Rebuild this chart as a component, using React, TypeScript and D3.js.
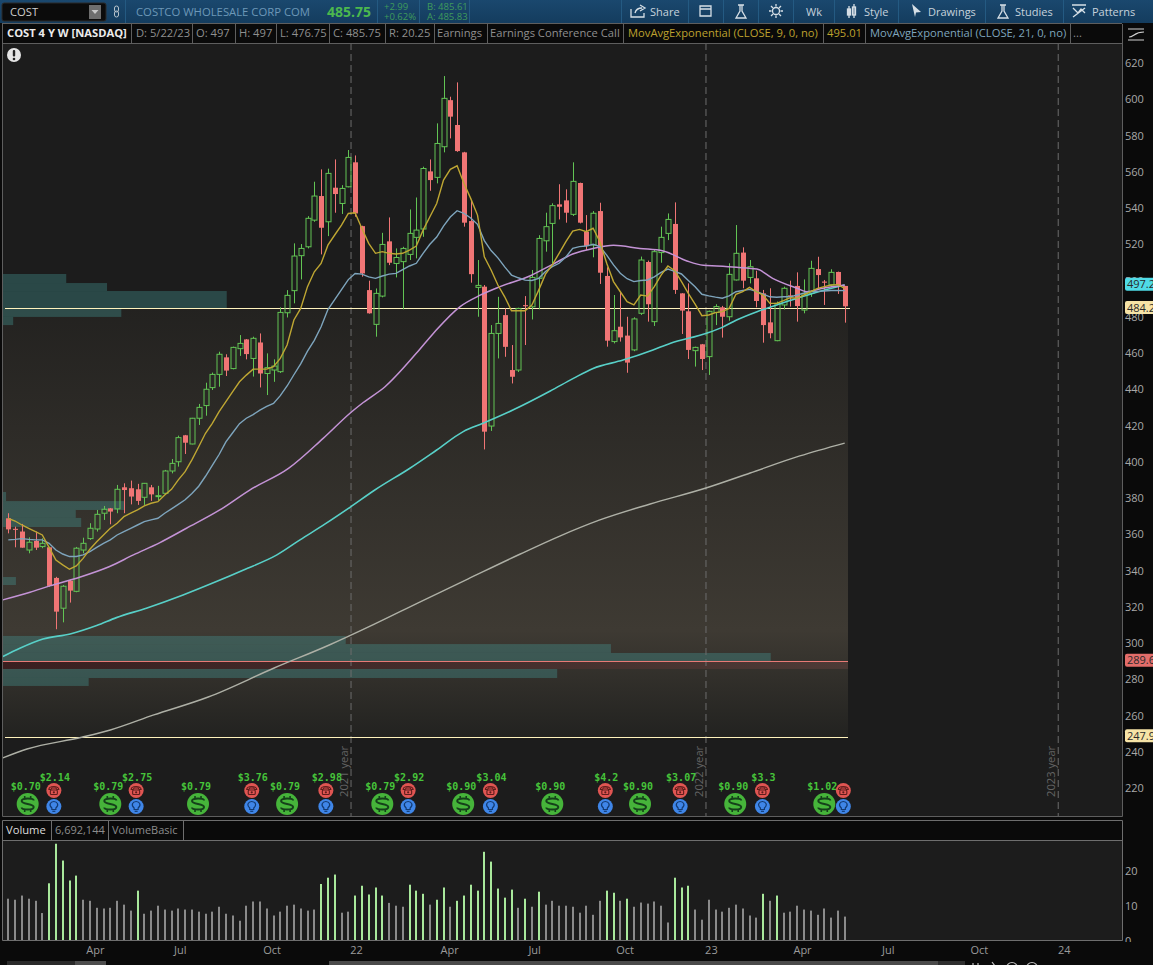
import React from "react";
import * as d3 from "d3";

const opens = [368.8,363,361.5,351.3,356.3,353.2,352.8,335.9,319.2,334.4,328.5,351.3,357.6,362.9,371.6,374.3,374,385.9,385.4,384.8,380.4,385.9,381,382.6,394.9,400,414.6,409.8,424,431,440.9,448.2,457.6,451.4,462.4,467.5,457,465.8,448.7,450.6,449.7,482.2,494.4,513.7,518.6,533.3,546.6,532.4,551.2,542.5,551.7,565.2,530,494.7,475.8,491.4,521.6,509.4,510.4,514.4,523.8,528.4,560.2,556.9,573.8,599.5,585.8,570.7,532.8,496.2,496.6,419.7,470.8,480.9,450.6,450.6,486.4,485.5,501.2,521.9,531.5,542,544.2,536.5,553.8,526.9,519.6,538.3,502.5,466.3,474.5,469.6,461.7,481.9,510.2,477.3,515.4,526,531.2,492.9,483,461.3,464.8,458,482.4,485.2,480,500.3,515.4,501.7,501.2,492.9,476.9,466.8,486.5,491.8,497,483.7,492.9,506.3,499.4,497.5,504.7,497];
const highs = [371.6,364.2,365.7,358.3,361.5,357.8,353,336.5,332,335,353,358.1,366.1,373.4,375.6,374.5,387.2,388.1,389.6,387.8,388.3,387.2,386.7,395.5,401.5,414.4,414.8,424.2,431.9,443.6,449.2,460.7,459.3,463.5,469.9,467.7,469,470.8,459.8,456.5,485.2,494.7,520.5,520.1,535.5,554.5,561.3,561.7,566.8,552.6,572,569,530.2,499.9,495.6,526.3,534.8,517.7,518.6,539.2,545.8,562.8,566.8,586.7,612.8,601.4,609.3,571,544.4,511.3,497.5,475.4,491,484.6,464.4,485,491.4,505.8,525,537.4,542.6,553.1,550.3,565.2,554,536.1,538.3,542.9,507.3,492,493.8,480,479.7,513.2,511,516.8,529.7,537,543.1,493,498.4,463.5,465,483.4,486.9,486,509.5,530.6,518.3,511.3,505.4,494.8,495.7,488.4,496.6,499.9,504.5,500.6,510.9,513.1,500.3,506.2,504.9,497];
const lows = [360.5,352.8,352.6,349.5,351.3,352.3,331,307.6,311.4,322.3,328,349.5,356.9,361.5,367.9,365.5,371.6,371.6,376.5,376.2,376.2,378.4,378.6,381.7,393.6,397.3,404.3,409.6,420.3,425.4,439.6,441.4,447.3,451,458.4,456.5,447,441,436.8,444.1,449,479.6,487.4,500.6,517.7,532.4,514.4,524.5,537.4,536.7,551.4,535.2,502.1,481.7,469,490.7,508.5,501.7,484.1,511.3,512.2,524.1,549.5,553.6,570.7,578.4,571,529.7,498.8,480,406.8,417,457,457.9,443.2,449.5,464.4,478.5,484.1,515.9,509.5,533.7,531.9,535.6,531.5,516.8,512.8,498.1,463.5,465.3,466.3,449.1,461,481,477.3,474.9,509.8,522.3,492.6,470.5,456.7,452.5,450.6,447.9,475.4,468.5,477.8,500,495.7,498.4,485.2,465.7,468.1,466.5,484,485.6,477.3,481.9,491,494.8,486.5,496.6,492.6,476.75];
const closes = [362.7,362.4,352.6,355.6,352.6,355,331.5,317.3,331.3,328.9,352.3,355,363.3,371,373.8,372.5,384.8,384.4,380.8,378.4,388.1,382,381.3,394.9,399.1,413.3,410.5,424,430,440,448.2,459.3,450.3,463.1,465.3,459.4,468.1,448.7,451.9,452.8,482.4,491.8,513.5,517.7,534.3,546.6,529.1,559.1,547.7,550.8,567.9,537,503.9,481.9,492.9,519.9,509.8,512.7,517.7,526,527.8,561.8,555.4,575.6,600.5,590.4,571.4,531.9,503.5,497.3,416.6,470.8,476.3,463.4,446.9,484.6,485.8,501.7,523.2,529.7,541.3,540.7,537.4,554.7,531.9,519,537.1,504.3,466.8,472.3,468.6,454.7,478.8,511.3,486.9,515.9,523.8,533.7,494.8,483.4,461.7,463.1,456.7,483,485.6,480,503.4,515,499.9,507.6,488.7,475.4,470.9,487.4,495.7,491.4,485.9,492.9,506.7,503,498.8,504.5,497.5,485.75];
const ema9 = [368.8,367.3,365.1,363.3,361.5,359.6,352.8,345.8,343.1,340.7,342.5,346.7,351.7,355.9,359.6,363.3,366.1,369.7,371.6,373.4,375.6,377.1,378,381.7,384.8,390,394.5,401,408.3,415.7,421.2,427.6,433.2,438.7,444.1,447.8,451.1,451.1,451.1,452.4,457,464.4,478.2,484.6,496.6,504.8,509.4,519.5,525.1,530.6,537,537.4,528.7,520.5,515,515.9,515,514.6,515,516.8,519,527.8,535.2,542.5,555.4,561.3,563.3,553.6,545.3,536.1,513.1,505.8,497.5,491,483.3,483.3,483.3,486.4,494.7,503.5,508.6,515,521.4,527.3,528.2,526.9,528.8,521.4,509.5,499.4,493.8,488.3,486.5,492,491.4,496.6,503,508,505.4,499.4,492.9,487,480.6,481,482.3,482.8,484.6,492.4,493.8,496.2,493.8,492,487.4,487.4,488.9,490.5,490.2,492,493.8,495.7,496.6,497.5,497.7,495.7];
const ema21 = [356.9,357.2,357.6,357.2,356.9,356.9,355,351.3,349.1,347.7,347.7,348.6,350.4,352.8,355,356.9,359.6,361.5,363.3,365.1,367,367.9,368.8,371.6,374,376.5,379,382.5,386.5,392,398,404,411,416,421,424,426,428.5,430.5,432.2,436.5,441.8,448,454,461,467,474.5,484,489.5,495,500.5,503.9,503.5,502,501.2,502.5,503.5,503.9,506,508,509.5,515,520,524,530,535,538.5,537,534.5,531,522,516.5,512.5,507.5,503,501.5,500.2,500,501.2,505,507.6,509.5,513,517.7,518.7,519,520,518.7,514,508.6,504,501,499.4,500,500.3,502,504.5,506.3,505,503.6,500,496.5,492.4,491.5,490.8,490.2,491.5,493.8,494.5,495.1,494,492.5,491,490.8,491,491,492,493,493.8,494,494.2,494.5,494.5,494.4];
const ema50Bars = [-0.8,3.2,6.1,10.5,14.9,18.4,22.3,26.2,31.1,35.5,41.2,46.3,50.5,52.2,55.4,60,62.5,66.4,69.4,72.3,76.7,79.9,83,86,89,92.9,96.3,99.8,102.2,104.2,107.1,110.1,112.4,116,117.4,119.8,123];
const ema50 = [323.8,328,331.5,336.3,342.2,348.6,355.4,363.3,373.4,384.4,396.3,412.9,427.6,432.7,441.4,459.8,470.8,485.5,491.9,496.6,502.5,508.6,514.6,517.7,519.4,517.7,516.3,510.8,508.4,508,507.3,506.3,501.2,495.7,493.8,495.7,497.5];
const ema100Bars = [-0.8,1.7,5.1,9.1,13,15.9,20.3,25.7,30.6,34.6,39.5,42.9,46.6,50.3,53.9,59,63,66.9,69.8,74.2,79.7,83.1,86,90.4,94.8,97.3,102.7,104.9,107.1,110.1,113,116,118.9,123];
const ema100 = [292.5,297.1,302.2,305,309.6,314,319.2,326.5,333.9,340.3,348.6,356.9,365.7,375,384.4,396.3,406.5,416.6,421.2,428.5,439,446,451.5,456.1,461.7,465.3,470.9,474,478.2,482.8,486.5,490.2,493.5,497.5];
const ema200Bars = [-0.8,2.75,10.8,15,21.4,29.4,39.1,47.2,53.6,60.5,67.9,75.3,81.1,87,94.4,102.6,109.1,116.4,123];
const ema200 = [236.6,241.5,248,252,260.3,270.2,286.2,298.9,310,322.6,335.9,349.1,359,367.9,376.7,385.5,393.8,403.2,410.3];
const volumes = [11.8,11.5,12.7,11.8,11.2,7.7,16.2,27.5,22.7,17,18.4,11.5,11.2,9.2,9,9.2,11.2,10.1,8.4,14.1,7.5,8.4,9.8,8.7,8.4,9,8.7,8.7,8.1,7.5,8.1,9.5,7.5,7,5.5,9.8,11,11,9,7,8.1,9.8,10.1,9,8.4,8.7,16,17.8,18.7,7.8,8.1,12.7,15.5,13,15,12.7,10.6,9.8,9.5,15.8,14.1,13.2,10.1,11.5,15,9.5,11.2,12.7,15.8,14.1,25.2,22.4,14.7,12.1,14.4,9.2,11.8,9.5,13.8,10.1,11.2,9.8,9.8,9.5,7.8,9.8,7.2,11.2,14.1,13.5,11.2,11.8,9.5,10.7,10.4,11,9.8,5,17.8,15,15.5,8.7,5.8,11.5,8.7,8.1,9.2,10.1,9,7,6.4,13.2,11.2,12.7,7.8,8.1,9.8,8.7,8.4,7.2,9,6.4,8.4,6.69];
const highVolumeBars = [6,7,8,9,10,19,46,47,48,51,52,53,54,55,59,60,61,63,64,66,67,68,69,70,71,72,73,74,76,78,88,89,91,98,99,100,111,113];
const profileTop = [503.6,498.6,494.2,484.8,479.9,383.3,378.3,373.4,369,336.4,303.9,299.4,294.5,285.7,280.7];
const profileBottom = [498.6,494.2,484.8,479.9,475.4,378.3,373.4,369,364,332,299.4,294.5,290,280.7,276.3];
const profileLength = [9.3,15.3,32.9,17.4,1.5,0.45,17.9,10.7,11.5,1.9,50.4,89.4,112.9,81.5,12.6];
const priceTicks = [620,600,580,560,540,520,500,480,460,440,420,400,380,360,340,320,300,280,260,240,220];
const volumeTicks = [20,10,0];
const monthLabels = ["Apr","Jul","Oct","22","Apr","Jul","Oct","23","Apr","Jul","Oct","24"];
const monthBars = [12.8,25.3,38.8,51.2,64.9,77.4,90.7,103.4,116.8,129.4,142.8,155.3];
const yearLabels = ["2021 year","2022 year","2023 year"];
const yearBars = [50.4,102.6,154.4];
const dividendBars = [2.85,15,27.9,41,55,66.9,80,92.9,106.9,120];
const dividendLabels = ["$0.70","$0.79","$0.79","$0.79","$0.79","$0.90","$0.90","$0.90","$0.90","$1.02"];
const earningsBars = [6.7,18.8,35.8,46.7,58.8,70.9,87.8,98.8,110.9,122.8];
const earningsLabels = ["$2.14","$2.75","$3.76","$2.98","$2.92","$3.04","$4.2","$3.07","$3.3",""];
const resistancePrice = 484.75;
const supportHigh = 289.9;
const supportLow = 285.7;
const lowPrice = 247.9;
const badgeValues = ["497.2","484.2","289.6","247.9"];
const badgePrices = [498,485.1,290.5,248.8];
const badgeFill = ["#4fdbe6","#f6e3a6","#e26d6a","#f6e3a6"];
const headerCells = ["D: 5/22/23","O: 497","H: 497","L: 476.75","C: 485.75","R: 20.25","Earnings","Earnings Conference Call"];
const headerCellX = [136,196,239,280,333,389,437,490];
const headerSeparators = [131,192,235,276,329,385,434,487,623,823,865,1070,1122];
const toolbarLabels = ["Share","Wk","Style","Drawings","Studies","Patterns"];
const toolbarX = [650,806,864,928,1015,1092];
const toolbarSeparators = [125,377,419,469,621,688,723,758,793,834,898,985,1063];

const FONT = "'Open Sans', sans-serif";
const MONO = "'DejaVu Sans Mono', monospace";
const x = d3.scaleLinear().domain([0, 123]).range([8.3, 844.7]);
const y = d3.scaleLinear().domain([620, 220]).range([63, 788]);
const vy = d3.scaleLinear().domain([0, 20]).range([940, 870]);
const profileX = d3.scaleLinear().domain([0, 1]).range([3, 9.8]);
const snap = (v: number) => Math.round(v) + 0.5;

const line = (bars: number[], vals: number[]) =>
  d3.line<number>().x((b) => x(b)).y((_, i) => y(vals[i])).curve(d3.curveLinear)(bars) as string;
const smooth = (bars: number[], vals: number[]) =>
  d3.line<number>().x((b) => x(b)).y((_, i) => y(vals[i])).curve(d3.curveMonotoneX)(bars) as string;
const allBars = opens.map((_, i) => i);

const GREEN = "#62c454";
const RED = "#f07575";

function Dollar({ cx }: { cx: number }) {
  return (
    <g transform={`translate(${cx},804)`}>
      <circle r={11} fill="#46b43a" />
      <path d="M6,-3.5 C6,-6 -6,-6.5 -6,-3 C-6,0.5 6,-0.5 6,3 C6,6.5 -6,6 -6,3.5" fill="none" stroke="#15401a" strokeWidth={2} />
      <path d="M-3,-8V-5.5M3,-8V-5.5M-3,5.5V8M3,5.5V8" stroke="#15401a" strokeWidth={1.6} />
    </g>
  );
}
function Phone({ cx }: { cx: number }) {
  return (
    <g transform={`translate(${cx},790.5)`}>
      <circle r={7.5} fill="#e05552" />
      <path d="M-5,-1 C-5,-5 5,-5 5,-1 L3,-1 L2,-2.5 L-2,-2.5 L-3,-1 Z" fill="none" stroke="#5e1d1c" strokeWidth={1.1} />
      <rect x={-3.5} y={-0.5} width={7} height={4.5} rx={1} fill="none" stroke="#5e1d1c" strokeWidth={1.1} />
      <circle cy={1.8} r={1.1} fill="#5e1d1c" />
    </g>
  );
}
function Bulb({ cx }: { cx: number }) {
  return (
    <g transform={`translate(${cx},806.5)`}>
      <circle r={7.5} fill="#3f86e8" />
      <path d="M-2,1.5 C-5.5,-1.5 -3.5,-5 0,-5 C3.5,-5 5.5,-1.5 2,1.5 V3 H-2 Z" fill="none" stroke="#123a72" strokeWidth={1.2} />
      <path d="M-1.5,4.8H1.5" stroke="#123a72" strokeWidth={1.2} />
    </g>
  );
}

export default function App() {
  document.body.style.margin = "0";
  document.body.style.background = "#0a0a0a";
  return (
    <svg width={1153} height={965} style={{ display: "block", position: "absolute", left: 0, top: 0 }} fontFamily={FONT}>
      <defs>
        <linearGradient id="topbar" x1="0" y1="0" x2="0" y2="1">
          <stop offset="0" stopColor="#1a486e" />
          <stop offset="1" stopColor="#143c5e" />
        </linearGradient>
        <linearGradient id="band" x1="0" y1="0" x2="0" y2="1">
          <stop offset="0" stopColor="#232220" />
          <stop offset="0.75" stopColor="#3e3a33" />
          <stop offset="1" stopColor="#222220" />
        </linearGradient>
        <linearGradient id="supp" x1="0" y1="0" x2="1" y2="0">
          <stop offset="0" stopColor="#3a1f20" />
          <stop offset="1" stopColor="#4d3a36" />
        </linearGradient>
        <clipPath id="volclip"><rect x={1123} y={840} width={30} height={102} /></clipPath>
      </defs>
      <rect width={1153} height={965} fill="#0a0a0a" />

      {/* panels */}
      <rect x={3} y={43} width={1119} height={773} fill="#1c1c1c" />
      <rect x={3} y={841} width={1119} height={99} fill="#1c1c1c" />
      <rect x={3} y={y(resistancePrice)} width={845} height={y(lowPrice) - y(resistancePrice)} fill="url(#band)" />

      {/* volume profile */}
      {profileTop.map((t, i) => (
        <rect key={i} x={3} y={y(t)} width={profileX(profileLength[i]) - 3} height={y(profileBottom[i]) - y(t)} fill="rgb(71,159,156)" opacity={0.34} />
      ))}
      <rect x={3} y={y(supportHigh)} width={845} height={y(supportLow) - y(supportHigh)} fill="url(#supp)" />

      {/* year lines */}
      {yearBars.map((b, i) => (
        <g key={i}>
          <line x1={x(b)} x2={x(b)} y1={43} y2={816} stroke="#6c6c6c" strokeDasharray="7 4" />
          <text transform={`translate(${x(b) - 3},797) rotate(-90)`} fontSize={11.2} fill="#646464">{yearLabels[i]}</text>
        </g>
      ))}

      {/* level lines */}
      <line x1={5} x2={850} y1={snap(y(resistancePrice))} y2={snap(y(resistancePrice))} stroke="#fff3bd" />
      <line x1={3} x2={848} y1={snap(y(supportHigh))} y2={snap(y(supportHigh))} stroke="#e87a76" />
      <line x1={5} x2={848} y1={snap(y(lowPrice))} y2={snap(y(lowPrice))} stroke="#fff3bd" />

      {/* candles */}
      {allBars.map((i) => {
        const up = closes[i] >= opens[i];
        const c = up ? GREEN : RED;
        const top = y(Math.max(opens[i], closes[i]));
        const bot = y(Math.min(opens[i], closes[i]));
        const cx = Math.round(x(i)) + 0.5;
        return (
          <g key={i}>
            <line x1={cx} x2={cx} y1={y(highs[i])} y2={up ? top : y(lows[i])} stroke={c} />
            {up && <line x1={cx} x2={cx} y1={bot} y2={y(lows[i])} stroke={c} />}
            {up ? (
              <rect x={cx - 2.5} y={top} width={5} height={Math.max(bot - top, 1)} fill="none" stroke={c} />
            ) : (
              <rect x={cx - 2.5} y={top} width={5} height={Math.max(bot - top, 1)} fill={c} />
            )}
          </g>
        );
      })}

      {/* moving averages */}
      <path d={smooth(ema200Bars, ema200)} fill="none" stroke="#aeb0a6" strokeWidth={1.4} />
      <path d={smooth(ema100Bars, ema100)} fill="none" stroke="#58d0c8" strokeWidth={1.6} />
      <path d={smooth(ema50Bars, ema50)} fill="none" stroke="#c493d6" strokeWidth={1.5} />
      <path d={line(allBars, ema21)} fill="none" stroke="#7ea5bd" strokeWidth={1.4} />
      <path d={line(allBars, ema9)} fill="none" stroke="#bfa733" strokeWidth={1.4} />

      {/* events */}
      {dividendBars.map((b, i) => (
        <g key={i}>
          <Dollar cx={x(b)} />
          <text x={x(b) - 2} y={790} textAnchor="middle" fontFamily={MONO} fontWeight="bold" fontSize={10} fill="#46c43a">{dividendLabels[i]}</text>
        </g>
      ))}
      {earningsBars.map((b, i) => (
        <g key={i}>
          <Phone cx={x(b)} />
          <Bulb cx={x(b)} />
          <text x={x(b) + 1} y={781} textAnchor="middle" fontFamily={MONO} fontWeight="bold" fontSize={10} fill="#46c43a">{earningsLabels[i]}</text>
        </g>
      ))}

      {/* alert */}
      <circle cx={14} cy={55} r={7} fill="#e6e6e6" />
      <rect x={12.8} y={50} width={2.4} height={6.5} rx={1} fill="#222" />
      <circle cx={14} cy={59} r={1.3} fill="#222" />

      {/* volume */}
      {allBars.map((i) => (
        <rect key={i} x={Math.round(x(i)) - 1} y={vy(volumes[i])} width={2} height={940 - vy(volumes[i])} fill={highVolumeBars.includes(i) ? "#a9e99c" : "#8a8a8a"} />
      ))}

      {/* frame */}
      <path d="M2.5,23V816.5H1122.5V43" fill="none" stroke="#5e5e5e" />
      <path d="M2.5,820.5H1122.5V940.5H2.5Z" fill="none" stroke="#6e6e6e" />
      <path d="M2.5,840.5H1122.5" stroke="#6e6e6e" />
      <path d="M51.5,821V840M108.5,821V840M183.5,821V840" stroke="#6e6e6e" />
      <text x={6} y={834} fontSize={11.2} fill="#dcdcdc">Volume</text>
      <text x={55} y={834} fontSize={11} fill="#8c8c8c">6,692,144</text>
      <text x={112} y={834} fontSize={11} fill="#8c8c8c">VolumeBasic</text>

      {/* axes */}
      {priceTicks.map((t) => (
        <text key={t} x={1125} y={y(t) + 4.2} fontSize={11} fill="#a8a8a8">{t}</text>
      ))}
      {badgeValues.map((v, i) => (
        <g key={i}>
          <rect x={1125} y={y(badgePrices[i]) - 6.5} width={40} height={13} rx={2} fill={badgeFill[i]} />
          <text x={1127} y={y(badgePrices[i]) + 4} fontSize={11} fill="#2a2a2a">{v}</text>
        </g>
      ))}
      <g clipPath="url(#volclip)">
        {volumeTicks.map((t) => (
          <text key={t} x={1125} y={vy(t) + 4.5} fontSize={11} fill="#a8a8a8">{t}</text>
        ))}
      </g>
      {monthBars.map((b, i) => (
        <text key={i} x={x(b)} y={954} textAnchor="middle" fontSize={11} fill="#9a9a9a">{monthLabels[i]}</text>
      ))}

      {/* scroll bar */}
      <rect x={7} y={961} width={68} height={4} fill="#2a2a2a" />
      <rect x={75} y={961} width={31} height={4} fill="#4d4d4d" />
      <rect x={329} y={961} width={609} height={4} fill="#4a4a4a" />
      <rect x={938} y={961} width={27} height={4} fill="#2e2e2e" />
      <g fill="none" stroke="#bdbdbd" strokeWidth={1.2}>
        <circle cx={1012} cy={968} r={5.5} />
        <circle cx={1032} cy={968} r={5.5} />
        <path d="M973,963V966M978,963V966M992,962L995,966" />
      </g>

      {/* header row */}
      <rect x={3} y={24} width={1119} height={19} fill="#0a0a0a" />
      <path d="M2,23.5H1122M2,43.5H1122" stroke="#5e5e5e" />
      {headerSeparators.map((s) => (
        <line key={s} x1={s + 0.5} x2={s + 0.5} y1={24} y2={43} stroke="#5e5e5e" />
      ))}
      <text x={7} y={37} fontSize={11.2} fontWeight="bold" fill="#ececec">COST 4 Y W [NASDAQ]</text>
      {headerCells.map((c, i) => (
        <text key={c} x={headerCellX[i]} y={37} fontSize={11.2} fill="#8f8f8f">{c}</text>
      ))}
      <text x={628} y={37} fontSize={11.2} fill="#bda12e">MovAvgExponential (CLOSE, 9, 0, no)</text>
      <text x={827} y={37} fontSize={11.2} fill="#bda12e">495.01</text>
      <text x={870} y={37} fontSize={11.2} fill="#7ea5bd">MovAvgExponential (CLOSE, 21, 0, no)</text>
      <text x={1073} y={37} fontSize={11.2} fill="#8f8f8f">...</text>

      {/* top bar */}
      <rect width={1153} height={23} fill="url(#topbar)" />
      <rect x={2} y={3} width={104} height={18} rx={2} fill="#0b0b0b" stroke="#2b2b2b" />
      <rect x={89} y={5} width={12} height={14} fill="#6e6e6e" />
      <path d="M91.5,10H98.5L95,14Z" fill="#c8c8c8" />
      <text x={10} y={16} fontSize={11.2} fill="#cfcfcf">COST</text>
      <rect x={114.5} y={6} width={4} height={6} rx={2} fill="none" stroke="#b8c4cc" />
      <rect x={114.5} y={11} width={4} height={6} rx={2} fill="none" stroke="#b8c4cc" />
      <text x={136} y={15.5} fontSize={11.3} fill="#6d98b8">COSTCO WHOLESALE CORP COM</text>
      <text x={327} y={17} fontSize={14} fontWeight="bold" fill="#4cb84e">485.75</text>
      <text x={384} y={10} fontSize={9.5} fill="#3f9a5c">+2.99</text>
      <text x={384} y={20} fontSize={9.5} fill="#3f9a5c">+0.62%</text>
      <text x={427} y={10} fontSize={9.5} fill="#3f9a5c">B: 485.61</text>
      <text x={427} y={20} fontSize={9.5} fill="#3f9a5c">A: 485.83</text>
      {toolbarSeparators.map((s) => (
        <line key={s} x1={s + 0.5} x2={s + 0.5} y1={0} y2={23} stroke="#245a82" />
      ))}
      {toolbarLabels.map((l, i) => (
        <text key={l} x={toolbarX[i]} y={15.5} fontSize={11} fill="#c6d2dc">{l}</text>
      ))}
      <g fill="none" stroke="#d6dfe6" strokeWidth={1.3}>
        <path d="M631,9V17H644V13M635,13C636,9 639,8 642,8M640,5L645,8L640,11" />
        <path d="M700,6H711V16H700ZM700,9H711" />
        <path d="M738,5H744M740,5V11L736,18H746L742,11V5" />
        <circle cx={776} cy={11} r={3.5} />
        <path d="M776,4V6.5M776,15.5V18M769,11H771.5M780.5,11H783M771,6L773,8M779,14L781,16M781,6L779,8M773,14L771,16" />
        <path d="M849,6V18M854,4V18" />
        <rect x={847.5} y={9} width={3} height={6} fill="#d6dfe6" />
        <rect x={852.5} y={7} width={3} height={8} />
        <path d="M1000,5H1006M1002,5V11L998,18H1008L1004,11V5" />
        <path d="M1072,5H1086M1073,8L1078,13L1081,9L1085,13M1073,17L1085,8" />
      </g>
      <path d="M912,4L921,12L916,12.5L915,17Z" fill="#d6dfe6" />

      {/* top-right icon */}
      <g fill="none" stroke="#cfcfcf" strokeWidth={1.2}>
        <path d="M1128,29H1144M1128,40H1144M1129,37C1134,37 1134,32 1144,32" />
      </g>
    </svg>
  );
}
